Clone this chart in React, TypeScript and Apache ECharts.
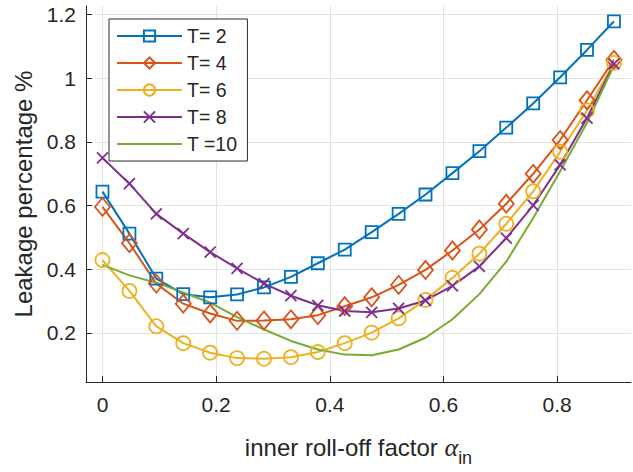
import React, { useEffect, useRef } from "react";
import * as echarts from "echarts";

const X = [0, 0.0474, 0.0947, 0.1421, 0.1895, 0.2368, 0.2842, 0.3316, 0.3789, 0.4263, 0.4737, 0.5211, 0.5684, 0.6158, 0.6632, 0.7105, 0.7579, 0.8053, 0.8526, 0.9];
const T2 = [0.644, 0.512, 0.371, 0.322, 0.312, 0.321, 0.343, 0.376, 0.419, 0.462, 0.517, 0.574, 0.635, 0.702, 0.771, 0.845, 0.921, 1.003, 1.089, 1.179];
const T4 = [0.596, 0.482, 0.355, 0.292, 0.261, 0.238, 0.239, 0.243, 0.256, 0.284, 0.312, 0.351, 0.398, 0.459, 0.525, 0.606, 0.700, 0.806, 0.931, 1.058];
const T6 = [0.429, 0.332, 0.221, 0.168, 0.138, 0.121, 0.119, 0.124, 0.140, 0.168, 0.201, 0.246, 0.304, 0.373, 0.449, 0.543, 0.645, 0.769, 0.899, 1.048];
const T8 = [0.750, 0.669, 0.574, 0.512, 0.454, 0.403, 0.355, 0.317, 0.287, 0.269, 0.265, 0.277, 0.302, 0.348, 0.409, 0.498, 0.601, 0.728, 0.875, 1.045];
const T10 = [0.414, 0.381, 0.358, 0.327, 0.295, 0.250, 0.211, 0.175, 0.148, 0.132, 0.130, 0.148, 0.185, 0.243, 0.322, 0.424, 0.561, 0.708, 0.860, 1.040];

const NAMES = ["T= 2", "T= 4", "T= 6", "T= 8", "T =10"];
const X_TICKS = [0, 0.2, 0.4, 0.6, 0.8];
const Y_TICKS = [0.2, 0.4, 0.6, 0.8, 1, 1.2];

const FONT = "'Liberation Sans', Arial, Helvetica, sans-serif";
const INK = "#262626";

export default function App() {
  const ref = useRef<HTMLDivElement>(null);
  useEffect(() => {
    const chart = echarts.init(ref.current!, null, { renderer: "svg" });
    const mk = (name: string, vals: number[], color: string, symbol: string, size: any) => {
      const none = symbol === "none";
      return {
        name,
        type: "line",
        data: X.map((x, i) => [x, vals[i]]),
        symbol: none ? "circle" : symbol,
        symbolSize: none ? 1 : size,
        showSymbol: !none,
        lineStyle: { color, width: 2 },
        itemStyle: none
          ? { color: "rgba(0,0,0,0)", borderColor: "rgba(0,0,0,0)", borderWidth: 0 }
          : { color: "rgba(0,0,0,0)", borderColor: color, borderWidth: 1.8 },
        emphasis: { disabled: true },
      };
    };
    chart.setOption({
      animation: false,
      textStyle: { fontFamily: FONT },
      grid: { left: 86, right: 2, top: 6, bottom: 78, containLabel: false },
      legend: {
        orient: "vertical",
        left: 109,
        top: 19,
        padding: [7, 10, 7, 7],
        itemWidth: 65,
        itemHeight: 14,
        itemGap: 7,
        backgroundColor: "#fff",
        borderColor: "#2b2b2b",
        borderWidth: 1,
        data: NAMES,
        textStyle: { fontSize: 19.5, lineHeight: 20, color: INK, fontFamily: FONT },
      },
      xAxis: {
        type: "value",
        min: -0.029,
        max: 0.93,
        axisLine: { show: true, onZero: false, lineStyle: { color: INK, width: 1 } },
        axisTick: { show: true, inside: true, length: 6, customValues: X_TICKS, lineStyle: { color: INK } },
        axisLabel: { customValues: X_TICKS, color: INK, fontSize: 21, margin: 12, fontFamily: FONT },
        splitLine: { show: true, lineStyle: { color: "#e3e3e3", width: 1 } },
        name: "{t|inner roll-off factor }{a|α}{s|in}",
        nameLocation: "middle",
        nameGap: 45,
        nameTextStyle: {
          rich: {
            t: { fontSize: 24, color: INK, fontFamily: FONT },
            a: { fontSize: 26, color: INK, fontFamily: "'Liberation Serif', 'DejaVu Serif', serif", fontStyle: "italic" },
            s: { fontSize: 18, color: INK, fontFamily: FONT, verticalAlign: "bottom", lineHeight: 40 },
          },
        },
      },
      yAxis: {
        type: "value",
        min: 0.046,
        max: 1.227,
        axisLine: { show: true, onZero: false, lineStyle: { color: INK, width: 1 } },
        axisTick: { show: true, inside: true, length: 6, customValues: Y_TICKS, lineStyle: { color: INK } },
        axisLabel: { customValues: Y_TICKS, color: INK, fontSize: 21, margin: 10, fontFamily: FONT },
        splitLine: { show: true, lineStyle: { color: "#e3e3e3", width: 1 } },
        name: "Leakage percentage %",
        nameLocation: "middle",
        nameGap: 46,
        nameTextStyle: { fontSize: 24, color: INK, fontFamily: FONT },
      },
      series: [
        mk(NAMES[0], T2, "#0072BD", "rect", 12),
        mk(NAMES[1], T4, "#D95319", "diamond", [15, 18]),
        mk(NAMES[2], T6, "#EDB120", "circle", 14),
        mk(NAMES[3], T8, "#7E2F8E", "path://M0,0L10,10M10,0L0,10", 11),
        mk(NAMES[4], T10, "#77AC30", "none", 0),
      ],
    });
    return () => chart.dispose();
  }, []);
  return <div ref={ref} style={{ width: 633, height: 472, position: "absolute", left: 0, top: 0 }} />;
}
